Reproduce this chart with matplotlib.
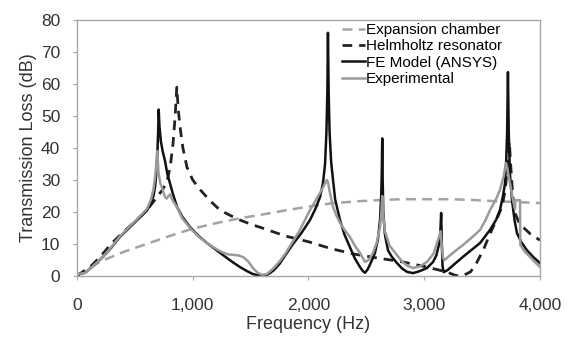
import numpy as np
import matplotlib
matplotlib.use('Agg')
import matplotlib.pyplot as plt

plt.rcParams['font.family'] = ['Liberation Sans', 'DejaVu Sans']

# Expansion chamber (analytical)
f_exp = [0, 100, 200, 400, 600, 800, 1000, 1200, 1400, 1600, 1800, 2000,
         2200, 2400, 2600, 2800, 3000, 3200, 3400, 3600, 3800, 4000]
tl_exp = [0, 2.3, 4.5, 7.5, 10, 12.5, 14.8, 16.5, 18, 19.2, 20.5, 21.7,
          22.7, 23.3, 23.7, 24, 24, 24, 23.8, 23.4, 23.1, 22.8]

# Helmholtz resonator (analytical)
f_hr = [0, 130, 200, 302, 399, 500, 605, 691, 740, 777, 805, 830, 848, 862,
        875, 890, 915, 950, 1000, 1063, 1150, 1235, 1320, 1408, 1500, 1600,
        1800, 2000, 2200, 2400, 2600, 2800, 3000, 3200, 3260, 3300, 3350,
        3400, 3450, 3509, 3560, 3611, 3672, 3700, 3720, 3735, 3748, 3765,
        3784, 3815, 3853, 3920, 4000]
tl_hr = [0, 3.4, 6, 10.3, 13.7, 17, 20.6, 24.7, 27, 29.5, 34, 41.5, 50, 59,
         52, 46.6, 40, 34, 30, 27, 23.5, 20.6, 19, 17.5, 16.2, 15,
         12.5, 10.7, 8.5, 6.8, 5.6, 4.5, 3, 1.2, 0.3, 0, 0.4,
         1.3, 4, 8, 12.5, 16.6, 21.6, 27, 35, 42, 34, 25,
         19.7, 17, 15.3, 13, 11.2]

# FE model (ANSYS)
f_fe = [0, 40, 70, 150, 225, 300, 370, 450, 520, 605, 640, 660, 675, 685,
        693, 700, 706, 712, 725, 740, 760, 780, 803, 830, 864, 910, 976,
        1050, 1123, 1200, 1296, 1350, 1408, 1470, 1520, 1570, 1610, 1650,
        1700, 1750, 1800, 1866, 1940, 2013, 2060, 2100, 2125, 2143, 2155,
        2163, 2168, 2174, 2182, 2195, 2203, 2230, 2272, 2310, 2358, 2400,
        2445, 2470, 2488, 2510, 2530, 2555, 2574, 2600, 2618, 2628, 2633,
        2637, 2641, 2646, 2660, 2687, 2720, 2765, 2810, 2851, 2903, 2960,
        3024, 3076, 3105, 3125, 3138, 3146, 3152, 3158, 3168, 3200, 3270,
        3335, 3410, 3482, 3568, 3620, 3654, 3680, 3698, 3708, 3716, 3723,
        3730, 3740, 3758, 3780, 3801, 3840, 3888, 3940, 4000]
tl_fe = [0.5, 0.8, 1.0, 3.5, 6, 9, 12.2, 15, 17.5, 20.5, 22.8, 25, 28, 32,
         37, 44, 52, 47, 42, 39, 36, 32, 29, 25.5, 21.6, 18.5, 15.3,
         12.5, 10.3, 8.2, 5.6, 4.2, 2.8, 1.5, 0.6, 0.2, 0.1, 0.5,
         1.8, 3.8, 6.5, 10, 13.5, 17.5, 21, 24.7, 29, 35, 45,
         58, 76, 58, 45, 36, 33, 24, 17.5, 13, 9, 5.5,
         2.8, 1.5, 1, 2, 3.5, 5.5, 7.2, 11.5, 17.5, 25, 32,
         43, 30, 20, 13, 8, 6, 4, 2.3, 1.3, 0.9, 1.5,
         2.5, 4.4, 6.5, 9.5, 13, 19.7, 10, 3, 1.2, 1.8, 4,
         6, 8.2, 10.3, 14.4, 17.5, 20.6, 25, 29, 36, 45, 63.7,
         45, 32, 23.7, 17.5, 13.4, 10.5, 8, 6, 4]

# Experimental
f_ex = [0, 70, 150, 225, 300, 370, 450, 520, 605, 640, 660, 675, 685, 692,
        698, 705, 720, 740, 760, 775, 790, 805, 820, 864, 910, 976, 1050,
        1123, 1200, 1250, 1300, 1350, 1400, 1440, 1480, 1520, 1560, 1600,
        1640, 1700, 1760, 1800, 1860, 1920, 2013, 2060, 2100, 2130, 2150,
        2160, 2170, 2185, 2212, 2240, 2272, 2310, 2358, 2400, 2445, 2488,
        2520, 2557, 2590, 2618, 2630, 2637, 2645, 2660, 2700, 2765, 2810,
        2850, 2903, 2960, 3024, 3080, 3110, 3130, 3140, 3150, 3162, 3175,
        3250, 3335, 3410, 3482, 3530, 3568, 3620, 3654, 3685, 3706, 3720,
        3741, 3765, 3784, 3788, 3827, 3830, 3870, 3913, 3960, 4000]
tl_ex = [0.5, 1, 3.5, 6, 9.2, 12.4, 15.3, 17.8, 21, 24, 27, 31, 35, 39,
         36, 32, 29, 27, 24.7, 24.2, 25, 25.5, 24, 21.5, 18, 15, 12.3,
         10.3, 8.5, 7.5, 6.8, 6.6, 6.4, 5.8, 4.5, 2.5, 1, 0.4,
         0.6, 2.5, 5, 7, 10.5, 14, 20.6, 23.5, 26, 28, 29.5,
         30, 29, 26, 21.6, 19, 16.6, 14.5, 12.2, 9.5, 7.2, 4.4,
         5, 7.2, 10.5, 15.3, 20, 25, 19, 14, 9.5, 6.5, 4.5,
         3.3, 2.5, 3, 4.4, 7, 10.3, 12.5, 14, 10, 5.6, 5,
         7.3, 9.7, 12, 14.4, 17.5, 20.6, 24, 26.9, 31, 35.3, 33,
         29, 24, 21, 23.7, 23.7, 9.7, 7.5, 6, 4.2, 2.8]

xticks = [0, 1000, 2000, 3000, 4000]
xtick_labels = ['0', '1,000', '2,000', '3,000', '4,000']
yticks = [0, 10, 20, 30, 40, 50, 60, 70, 80]

fig = plt.figure(figsize=(5.73, 3.4), dpi=100)
ax = fig.add_axes([77 / 573, 64 / 340, 463 / 573, 256 / 340])

ax.plot(f_exp, tl_exp, color='#a3a3a3', lw=1.8, dashes=(4, 2.5),
        label='Expansion chamber')
ax.plot(f_hr, tl_hr, color='#222222', lw=2.0, dashes=(3.5, 2.5),
        label='Helmholtz resonator')
ax.plot(f_fe, tl_fe, color='#111111', lw=1.8, label='FE Model (ANSYS)')
ax.plot(f_ex, tl_ex, color='#9a9a9a', lw=1.8, label='Experimental')

ax.set_xlim(0, 4000)
ax.set_ylim(0, 80)
ax.set_xticks(xticks)
ax.set_xticklabels(xtick_labels)
ax.set_yticks(yticks)

for s in ax.spines.values():
    s.set_color('#a8a8a8')
    s.set_linewidth(1.0)
ax.tick_params(axis='x', length=3, color='#a8a8a8', pad=13,
               labelsize=12.5, labelcolor='#333333')
ax.tick_params(axis='y', length=3, color='#a8a8a8', pad=9,
               labelsize=12.5, labelcolor='#333333')

ax.set_xlabel('Frequency (Hz)', fontsize=13, color='#333333', labelpad=2)
ax.set_ylabel('Transmission Loss (dB)', fontsize=13, color='#333333',
              labelpad=3)

ax.legend(loc='upper left', bbox_to_anchor=(0.565, 1.0), frameon=False,
          fontsize=11, handlelength=1.5, handletextpad=0.1,
          labelspacing=0.15, borderpad=0.2, borderaxespad=0)

plt.savefig('out.png', dpi=100)
